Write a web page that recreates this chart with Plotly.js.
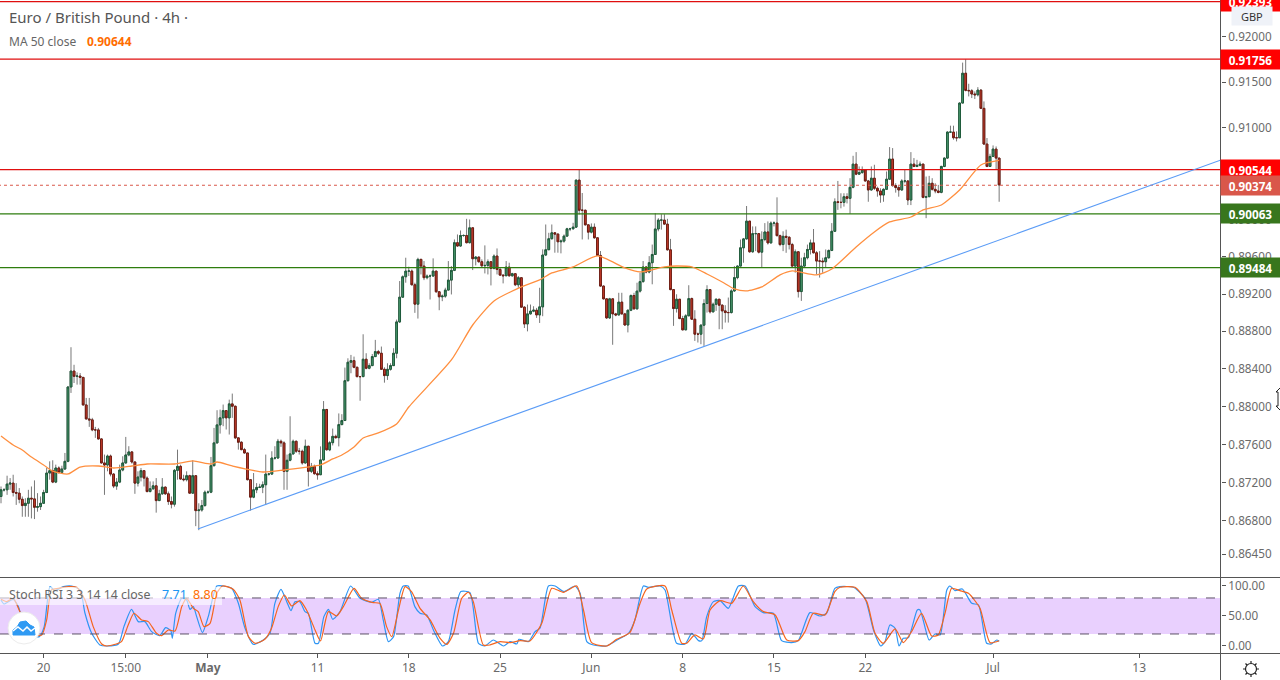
<!DOCTYPE html>
<html>
<head>
<meta charset="utf-8">
<title>EUR/GBP 4h</title>
<script src="https://cdn.plot.ly/plotly-3.0.1.min.js"></script>
<style>
  html, body { margin: 0; padding: 0; background: #fff; overflow: hidden; }
  #chart { width: 1280px; height: 680px; }
</style>
</head>
<body>
<div id="chart"></div>
<script>
// candles, one per 4h bar
const opens = [.87054,.87124,.87124,.87184,.87194,.87096,.87089,.87025,.86959,.86983,.87036,.87029,.86941,.86948,.86983,.87096,.873,.87325,.87205,.87353,.87307,.87342,.87423,.88208,.88377,.88321,.88324,.8831,.88018,.8787,.8786,.87754,.87754,.87659,.87406,.87384,.87479,.87289,.87163,.87205,.87332,.87406,.8749,.87522,.87416,.87194,.87258,.87325,.87247,.87106,.87135,.87166,.87011,.87082,.87152,.87082,.87001,.86973,.87328,.8737,.87237,.8723,.87272,.87089,.87272,.86906,.86913,.86959,.87099,.87099,.87377,.87617,.87807,.87881,.87958,.87881,.88029,.88004,.8767,.87624,.87546,.87511,.8723,.87047,.87124,.87149,.87152,.87177,.87289,.87289,.87458,.87458,.87634,.87617,.87318,.87434,.87501,.87634,.87529,.87529,.87406,.87582,.87318,.8737,.87293,.87282,.87438,.8797,.87544,.87619,.87686,.87672,.8781,.87853,.88275,.88471,.88488,.88417,.88318,.88318,.88503,.88407,.88435,.88531,.88584,.88567,.88396,.88329,.88396,.88435,.88567,.88901,.89166,.89385,.89446,.89446,.89299,.89091,.89572,.895,.89375,.89393,.89393,.89446,.89224,.8917,.89177,.89242,.89349,.89454,.89752,.89716,.8983,.8983,.89752,.89913,.89579,.89597,.89547,.89504,.89507,.89547,.89475,.89608,.89464,.89403,.89396,.89489,.89396,.89418,.89299,.89375,.89059,.88879,.88987,.89016,.89026,.88976,.89062,.89619,.89676,.89795,.89859,.89845,.89762,.89769,.89823,.89902,.89902,.8992,.9043,.90103,.90103,.89945,.89866,.8992,.89805,.89615,.89285,.89148,.88944,.89148,.88987,.88976,.89113,.88987,.88868,.89026,.89184,.89041,.89231,.89333,.8949,.89436,.89536,.89625,.899,.89996,.89996,.89953,.89675,.89247,.89044,.89144,.88937,.88816,.88966,.89151,.8893,.8877,.8877,.88866,.89098,.89247,.89009,.8909,.89144,.8908,.89019,.89001,.89001,.89233,.89376,.895,.89697,.89793,.89985,.89654,.8985,.8985,.8965,.89786,.89868,.8975,.89964,.89964,.89828,.89732,.89821,.89811,.89732,.895,.89654,.89226,.895,.8959,.89679,.8975,.89643,.89554,.89554,.89547,.8959,.89668,.89875,.90195,.90188,.90188,.9025,.90232,.90352,.90604,.90495,.90513,.90542,.90421,.90323,.90451,.90341,.90312,.90268,.9033,.9044,.90659,.9037,.90349,.90323,.90421,.90421,.90214,.90604,.90579,.9059,.90604,.90243,.9025,.90396,.9033,.90312,.90297,.90579,.9067,.90954,.90954,.90892,.90892,.91272,.916,.91411,.91407,.91371,.91363,.91414,.91214,.90823,.90579,.90688,.90768,.9067];
const closes = [.87124,.87124,.87184,.87194,.87096,.87089,.87025,.86959,.86983,.87036,.87029,.86941,.86948,.86983,.87096,.873,.87325,.87205,.87353,.87307,.87342,.87423,.88208,.88377,.88321,.88324,.8831,.88018,.8787,.8786,.87754,.87754,.87659,.87406,.87384,.87479,.87289,.87163,.87205,.87332,.87406,.8749,.87522,.87416,.87194,.87258,.87325,.87247,.87106,.87135,.87166,.87011,.87082,.87152,.87082,.87001,.86973,.87328,.8737,.87237,.8723,.87272,.87089,.87272,.86906,.86913,.86959,.87099,.87099,.87377,.87617,.87807,.87881,.87958,.87881,.88029,.88004,.8767,.87624,.87546,.87511,.8723,.87047,.87124,.87149,.87152,.87177,.87289,.87289,.87458,.87458,.87634,.87617,.87318,.87434,.87501,.87634,.87529,.87529,.87406,.87582,.87318,.8737,.87293,.87282,.87438,.8797,.87544,.87619,.87686,.87672,.8781,.87853,.88275,.88471,.88488,.88417,.88318,.88318,.88503,.88407,.88435,.88531,.88584,.88567,.88396,.88329,.88396,.88435,.88567,.88901,.89166,.89385,.89446,.89446,.89299,.89091,.89572,.895,.89375,.89393,.89393,.89446,.89224,.8917,.89177,.89242,.89349,.89454,.89752,.89716,.8983,.8983,.89752,.89913,.89579,.89597,.89547,.89504,.89507,.89547,.89475,.89608,.89464,.89403,.89396,.89489,.89396,.89418,.89299,.89375,.89059,.88879,.88987,.89016,.89026,.88976,.89062,.89619,.89676,.89795,.89859,.89845,.89762,.89769,.89823,.89902,.89902,.8992,.9043,.90103,.90103,.89945,.89866,.8992,.89805,.89615,.89285,.89148,.88944,.89148,.88987,.88976,.89113,.88987,.88868,.89026,.89184,.89041,.89231,.89333,.8949,.89436,.89536,.89625,.899,.89996,.89996,.89953,.89675,.89247,.89044,.89144,.88937,.88816,.88966,.89151,.8893,.8877,.8877,.88866,.89098,.89247,.89009,.8909,.89144,.8908,.89019,.89001,.89001,.89233,.89376,.895,.89697,.89793,.89985,.89654,.8985,.8985,.8965,.89786,.89868,.8975,.89964,.89964,.89828,.89732,.89821,.89811,.89732,.895,.89654,.89226,.895,.8959,.89679,.8975,.89643,.89554,.89554,.89547,.8959,.89668,.89875,.90195,.90188,.90188,.9025,.90232,.90352,.90604,.90495,.90513,.90542,.90421,.90323,.90451,.90341,.90312,.90268,.9033,.9044,.90659,.9037,.90349,.90323,.90421,.90421,.90214,.90604,.90579,.9059,.90604,.90243,.9025,.90396,.9033,.90312,.90297,.90579,.9067,.90954,.90954,.90892,.90892,.91272,.916,.91411,.91407,.91371,.91363,.91414,.91214,.90823,.90579,.90688,.90768,.9067,.90378];
const highs = [.87159,.87142,.87272,.87247,.87282,.87194,.87142,.87054,.87036,.87124,.87159,.87223,.87089,.87054,.87124,.87353,.87423,.87434,.87388,.8737,.87377,.87511,.88215,.88631,.88444,.88363,.88356,.88314,.88092,.88092,.87881,.87786,.87775,.87666,.87494,.87494,.87494,.873,.87247,.87388,.87476,.8768,.87582,.87529,.87423,.87318,.87353,.87325,.87265,.87212,.87212,.87247,.87124,.87247,.87159,.87106,.87054,.87342,.87546,.87388,.87282,.87318,.87282,.87434,.87272,.86983,.87018,.87117,.87117,.87469,.87775,.87962,.87969,.88022,.87962,.88074,.88138,.88011,.8767,.87634,.87564,.87511,.8723,.873,.87194,.87187,.87212,.87494,.873,.87529,.87582,.87659,.87652,.87634,.87494,.87898,.87652,.87641,.87564,.87546,.87652,.87582,.87406,.87388,.87318,.8758,.88059,.87974,.87636,.87768,.87704,.87928,.8792,.88414,.88513,.88549,.88531,.88425,.88325,.88769,.88567,.8846,.88559,.88709,.88602,.88638,.88417,.8846,.8846,.8862,.88926,.89339,.894,.8959,.89493,.89464,.89321,.8959,.89579,.89554,.8941,.8941,.89583,.89446,.89231,.89195,.89267,.89554,.895,.89787,.89841,.89884,.89841,.9001,.90003,.89913,.89608,.89601,.89572,.89723,.89572,.89554,.89626,.8969,.89482,.8941,.89554,.89536,.89428,.89421,.89393,.89375,.89069,.89087,.89087,.89069,.89051,.89267,.8968,.89949,.89859,.89949,.89866,.89852,.89787,.89841,.89913,.89913,.89967,.90434,.90548,.9029,.9011,.89949,.8996,.8996,.89805,.89662,.89292,.89152,.89159,.89152,.88998,.89213,.89213,.88998,.89033,.89195,.89213,.89321,.89429,.89554,.895,.89607,.89732,.90071,.90017,.9006,.9006,.9001,.89793,.89251,.89197,.89144,.88966,.88984,.89294,.89162,.89026,.88787,.88877,.89144,.89294,.89251,.89108,.89151,.89144,.8909,.8908,.89162,.89251,.895,.89508,.89786,.89803,.90149,.89985,.89928,.89928,.89857,.89875,.89964,.89982,.89982,.89982,.90243,.89839,.89875,.89893,.89821,.8975,.89679,.89661,.8959,.89643,.89732,.89786,.899,.89661,.89661,.8959,.89679,.89679,.89964,.90232,.90421,.90287,.90287,.90287,.90451,.90695,.90735,.90579,.90579,.90549,.90432,.90579,.90597,.90359,.90341,.90341,.90524,.9079,.90779,.90396,.90367,.9044,.90542,.90425,.90735,.9067,.90651,.90633,.90608,.90469,.90476,.90451,.90396,.90378,.90586,.90677,.90962,.91024,.91024,.90962,.91279,.91717,.91754,.91484,.91425,.914,.91447,.91425,.9129,.90889,.90717,.90808,.90797,.9067];
const lows = [.86983,.87106,.87071,.87124,.87054,.86966,.86983,.86842,.86842,.86842,.86825,.86818,.86895,.86913,.86983,.87089,.8723,.87194,.87194,.87293,.873,.87335,.87413,.88145,.8825,.88233,.88233,.88011,.87863,.87786,.8774,.8767,.87652,.87399,.87071,.87318,.87265,.87142,.87124,.87194,.87318,.87399,.87476,.87399,.87082,.87159,.87212,.87159,.87096,.87096,.87124,.86885,.87011,.87071,.87071,.86966,.8693,.86948,.8723,.8723,.87212,.87212,.87082,.87082,.86744,.86702,.86895,.86948,.87082,.87089,.8737,.8761,.87715,.87793,.87758,.87705,.87881,.87659,.87546,.87539,.87504,.87223,.86906,.87036,.87089,.87142,.87089,.86966,.87272,.87282,.87441,.87448,.87575,.87124,.87124,.87423,.87494,.87511,.87494,.87388,.87399,.87159,.873,.87282,.8723,.87431,.87431,.87537,.8753,.8759,.87661,.8758,.87803,.87849,.88265,.88354,.88407,.88311,.88062,.88318,.88396,.88396,.88432,.88531,.88549,.88389,.88254,.88283,.88382,.88432,.88513,.8889,.89159,.89321,.89393,.89292,.88998,.88937,.8941,.89349,.89357,.89141,.89385,.89213,.89026,.89123,.89159,.89242,.89195,.89446,.89708,.89708,.89816,.89744,.89744,.89457,.89507,.89536,.89482,.89421,.8941,.89292,.89464,.8941,.89393,.89314,.89393,.89385,.89385,.89285,.89267,.89051,.88836,.888,.8898,.89005,.88944,.8889,.88962,.89608,.89673,.89787,.89644,.89644,.89637,.89752,.89816,.89877,.89895,.89913,.90057,.89787,.89938,.89787,.89852,.89795,.89608,.89278,.89141,.88933,.88933,.88657,.88962,.88969,.8898,.88861,.88789,.89016,.89033,.89033,.89215,.89322,.89422,.89422,.89304,.89625,.89875,.89893,.89946,.89668,.8924,.88859,.89001,.8893,.88812,.88816,.88966,.88923,.88698,.88681,.88663,.88645,.89001,.88991,.89001,.89019,.88823,.88823,.88894,.88894,.88991,.89222,.89358,.895,.89536,.89786,.89643,.89643,.89661,.89636,.89483,.89768,.89732,.89743,.89928,.89821,.89714,.89661,.89643,.89679,.89493,.89429,.89162,.89126,.89483,.89572,.89625,.89636,.89411,.89376,.89429,.89483,.89579,.89661,.89875,.90107,.90124,.90142,.90177,.90064,.90341,.90484,.90487,.90498,.90414,.90195,.90316,.90323,.9025,.90184,.90195,.90323,.90432,.90359,.90294,.9025,.90316,.90396,.90159,.90159,.90571,.90571,.90579,.90232,.90017,.9025,.90316,.90287,.90287,.90287,.90571,.90662,.90944,.90871,.90852,.90889,.91272,.914,.91345,.91327,.91316,.91345,.91206,.90816,.90571,.90579,.90681,.90542,.90195];

// MA 50 close, vertices
const maBars = [0,4,7,10,14,17,22,26,32,37,43,48,57,63,69,71,76,86,93,105,109,112,116,119,124,130,134,148,155,162,171,177,181,188,196,205,210,218,222,227,232,237,241,245,250,256,260,268,273,281,287,292,299,303,309,315,322,328];
const maValues = [.8769,.87595,.87542,.87468,.87385,.87321,.8729,.87363,.87374,.87353,.87374,.87395,.87395,.87427,.87395,.87416,.87374,.87311,.87332,.87385,.87448,.8749,.87574,.87669,.87722,.87817,.87996,.88495,.88868,.89125,.89276,.89351,.89426,.89491,.89609,.8948,.89437,.89491,.89501,.89491,.89415,.89329,.89254,.89233,.89276,.89405,.89448,.89405,.89469,.89706,.89868,.89976,.9003,.90106,.9016,.90323,.90595,.90644];

// drawn levels and the rising trend line
const redLevels = [.92393,.91756,.90544];
const dottedLevel = .90374;
const greenLevels = [.90063,.89484];
const trendBars = [64.7,400.9];
const trendPrices = [.86715,.90649];

// Stoch RSI, vertices
const kBars = [0,1,4,5.7,7.3,9.5,12.6,14.2,16.1,17.7,20.5,23.2,26,27.6,29.8,32.5,34.7,38.6,40.4,42.9,45.1,47.3,49.5,52.2,54.1,55.8,56.3,57.4,59.4,61,62.1,63.2,64.3,66.2,68.1,70.9,73,75.8,78,80.2,82.9,86.2,88.4,90,92,93.9,95.3,96.6,98.2,99.9,101,103.2,104.3,106.1,107.6,109,111.4,114.9,118,121.8,124,125.6,127.3,129,131.1,132.2,133.8,136,137.7,139.9,142.1,145.1,147,149.2,151.1,154.1,156.9,159,161.8,165.1,167.3,169.5,170.2,173.3,175.5,177.1,179.9,182.1,185,188.6,190.3,192.5,194.7,199,203.4,206.2,208.3,211.1,212.7,216.6,218.2,222,224.8,227,229.2,230.3,231.9,234.1,236.3,239,242.3,244.5,247.8,250.5,253.8,256.5,259.8,262,265.8,269.1,271.3,274,275.7,280.1,283.9,286.7,289.1,290.5,292.1,293.8,295.1,296.5,298.2,301.1,302,305,306.9,308.6,310.8,311.8,313.5,315.9,319,321.2,323.9,325.5,327.2,328];
const kValues = [76.7,70,77.8,65.6,37.8,18.4,15.6,32.3,98.9,92.3,98.9,100,93.4,54.5,21.1,1.7,0,3.4,32.3,61.1,40.6,40.6,23.9,17.3,30.6,25.6,12.8,54.5,79.5,76.7,61.1,65.6,48.9,22.3,48.9,100,100,96.1,71.1,29.5,2.8,10,21.1,71.1,94.5,73.9,58.9,73.9,73.9,57.3,54.5,4.5,4.5,48.9,61.1,44.5,57.3,100,79.5,72.8,77.8,43.4,7.2,15.6,87.8,100,100,65.6,54.5,51.7,26.7,0,7.3,60,90.6,88.9,4.5,0,10,0,7.3,3.4,11.1,7.3,23.9,29.5,100,100,90.6,100,87.8,7.3,1.7,0,12.8,21.1,43.4,100,97.8,100,93.4,4.5,3.4,21.1,8.9,8.9,48.9,73.9,75.6,62.8,100,100,65.6,55.6,54.5,8.9,5.6,8.9,55.6,50,54.5,96.1,98.9,97.8,79.5,26.7,0,7.3,35,29.5,0,12.8,13.9,60,60,10,20,18.4,93.4,100,92.3,95,71.1,68.4,4.5,3.4,10,7.71];
const dBars = [0,1.9,4,6.2,8.4,10.6,13.4,15,16.6,18.8,22.1,24.9,27.6,30.3,33.1,34.7,37.5,39.6,41.8,43.7,46.2,48.4,51.1,52.8,55,57.2,59.4,61,63.2,64.8,66.7,68.7,70.9,72.8,76.3,78.5,81.3,83.5,86.7,88.9,91.1,93.1,95.5,98.2,100.4,103.2,105,107.6,110.3,112.5,116,118.5,122.3,124.5,126.7,128.4,130.6,132.8,134.9,137.7,141,144.3,146.5,148.7,151.4,153.6,155.2,158.5,160.7,164,167.3,170.6,173.8,177.7,181,184.8,189.2,191.4,194.1,199,202.3,206.7,210,212.2,218.2,220.4,223.7,225.3,228,230.8,233,236.3,240.1,243.9,247.2,250.5,254.4,258.2,262,264.2,266.9,270.8,274,275.7,280.6,284.5,287.2,289.9,293.8,296.5,299.2,302.5,305.8,308,310.2,312.4,315.1,317.9,321.7,325,328];
const dValues = [77.8,73.9,79.5,57.3,32.3,18.4,18.4,43.4,93.4,96.1,98.9,97.8,76.7,32.3,3.4,0,2.8,7.3,35,54.5,43.4,40.6,21.1,17.3,26.7,25,65.6,79.5,62.8,57.3,32.3,37.8,87.8,100,94.5,76.7,15.6,4.5,11.1,29.5,65.6,85,66.7,75.6,60,26.7,8.4,57.3,50,65.6,96.1,79.5,72.3,71.1,32.3,15.6,60,98.9,90.6,62.8,43.4,12.8,2.8,21.1,79.5,89.5,73.9,1.7,1.7,7.3,5.6,8.9,8.4,37.8,96.1,89.5,100,60,5.6,0,11.1,22.8,71.1,95,100,60,4.5,4.5,18.4,11.7,60,75.6,71.1,100,73.9,57.3,51.7,10,8.9,23.9,54.5,51.7,90.6,97.8,97.8,73.9,21.1,4.5,28.4,5.6,23.9,54.5,16.7,18.4,54.5,96.1,92.3,87.8,62.8,5.6,8.8];
const bandLevels = [20,80];

// axis ticks
const dateTicks = [14,41,68,104,134,164,194,224,254,284,326,374];
const dateLabels = ['20','15:00','<b>May</b>','11','18','25','Jun','8','15','22','Jul','13'];
const priceTicks = [.92,.915,.91,.9,.896,.892,.888,.884,.88,.876,.872,.868,.8645];
const stochTicks = [100,50,0];

const W = 1221, H = 653;
const px = x => x / W;
const py = y => (H - y) / H;
const font = 'Noto Sans, Liberation Sans, sans-serif';
const bars = closes.map((c, i) => i);

let traces = [];

// wicks first, grey
traces.push({
  type: 'candlestick', x: bars, open: opens, high: highs, low: lows, close: closes,
  yaxis: 'y', hoverinfo: 'skip', showlegend: false, whiskerwidth: 0,
  increasing: {line: {color: '#787878', width: 1}, fillcolor: '#787878'},
  decreasing: {line: {color: '#787878', width: 1}, fillcolor: '#787878'}
});
// bodies on top, dark edge
traces.push({
  type: 'candlestick', x: bars, open: opens, close: closes,
  high: opens.map((o, i) => Math.max(o, closes[i])),
  low: opens.map((o, i) => Math.min(o, closes[i])),
  yaxis: 'y', hoverinfo: 'skip', showlegend: false, whiskerwidth: 0,
  increasing: {line: {color: '#1d5a3a', width: 1}, fillcolor: '#4f9f73'},
  decreasing: {line: {color: '#6e1a10', width: 1}, fillcolor: '#d0402e'}
});

function levelLine(value, color, dash) {
  return {type: 'scatter', mode: 'lines', x: [-1, 402], y: [value, value], yaxis: 'y',
    line: {color: color, width: 1.2, dash: dash || 'solid'}, hoverinfo: 'skip', showlegend: false};
}
redLevels.forEach(v => traces.push(levelLine(v, '#e00f0f')));
traces.push(levelLine(dottedLevel, '#d9574a', 'dot'));
greenLevels.forEach(v => traces.push(levelLine(v, '#2e7d0e')));

traces.push({type: 'scatter', mode: 'lines', x: trendBars, y: trendPrices, yaxis: 'y',
  line: {color: '#5b9cf6', width: 1.1}, hoverinfo: 'skip', showlegend: false});
traces.push({type: 'scatter', mode: 'lines', x: maBars, y: maValues, yaxis: 'y',
  line: {color: '#ff8f3f', width: 1.3, shape: 'spline', smoothing: 0.6}, hoverinfo: 'skip', showlegend: false});
traces.push({type: 'scatter', mode: 'lines', x: kBars, y: kValues, yaxis: 'y2',
  line: {color: '#2f95f3', width: 1.2, shape: 'spline', smoothing: 0.6}, hoverinfo: 'skip', showlegend: false});
traces.push({type: 'scatter', mode: 'lines', x: dBars, y: dValues, yaxis: 'y2',
  line: {color: '#f5641e', width: 1.2, shape: 'spline', smoothing: 0.6}, hoverinfo: 'skip', showlegend: false});

// price tags on the right axis
let annotations = [];
function priceTag(value, bg) {
  annotations.push({
    xref: 'paper', yref: 'y', x: px(1250.5), y: Math.log10(value), xanchor: 'center', yanchor: 'middle',
    text: '<b>' + value.toFixed(5) + '</b>', showarrow: false, bgcolor: bg, width: 59, height: 19, borderpad: 0,
    font: {family: font, size: 11.7, color: '#fff'}
  });
}
redLevels.forEach(v => priceTag(v, '#ff0000'));
priceTag(dottedLevel, '#d9574a');
greenLevels.forEach(v => priceTag(v, '#38761d'));

function label(x, y, text, size, color, extra) {
  annotations.push(Object.assign({
    xref: 'paper', yref: 'paper', x: px(x), y: py(y), xanchor: 'left', yanchor: 'middle',
    text: text, showarrow: false, font: {family: font, size: size, color: color}
  }, extra || {}));
}
label(1231, 16.5, 'GBP', 11, '#333', {bgcolor: '#eff2f8', width: 38, height: 16});
label(7, 17, 'Euro / British Pound · 4h ·', 15, '#555');
label(7, 41.5, 'MA 50 close', 12, '#666');
label(85, 41.5, '<b>0.90644</b>', 12, '#ff6d00');
label(7, 594, 'Stoch RSI 3 3 14 14 close', 12.3, '#666');
label(160, 594, '7.71', 12.5, '#2196f3');
label(191, 594, '8.80', 12.5, '#ff6d00');

// little settings wheel in the corner
const gearRays = [[1251, 661, 1251, 663], [1251, 675, 1251, 677], [1243, 669, 1245, 669], [1257, 669, 1259, 669],
  [1245.5, 663.5, 1247, 665], [1255, 673, 1256.5, 674.5], [1245.5, 674.5, 1247, 673], [1255, 665, 1256.5, 663.5]];

const shapes = [
  // purple band of the oscillator
  {type: 'rect', xref: 'paper', yref: 'y2', x0: 0, x1: 1, y0: bandLevels[0], y1: bandLevels[1],
    fillcolor: 'rgba(156,39,250,0.22)', line: {width: 0}, layer: 'below'},
  {type: 'line', xref: 'paper', yref: 'y2', x0: 0, x1: 1, y0: bandLevels[0], y1: bandLevels[0],
    line: {color: '#5d5166', width: 1, dash: 'dash'}},
  {type: 'line', xref: 'paper', yref: 'y2', x0: 0, x1: 1, y0: bandLevels[1], y1: bandLevels[1],
    line: {color: '#5d5166', width: 1, dash: 'dash'}},
  // pale strip behind the legend
  {type: 'rect', xref: 'paper', yref: 'paper', x0: 0, x1: px(222), y0: py(605), y1: py(587),
    fillcolor: 'rgba(255,255,255,0.6)', line: {width: 0}},
  // pane frame
  {type: 'line', xref: 'paper', yref: 'paper', x0: 0, x1: px(1280), y0: py(577.5), y1: py(577.5), line: {color: '#555', width: 1}},
  {type: 'line', xref: 'paper', yref: 'paper', x0: 0, x1: px(1280), y0: py(653.5), y1: py(653.5), line: {color: '#555', width: 1}},
  {type: 'line', xref: 'paper', yref: 'paper', x0: px(1220.5), x1: px(1220.5), y0: py(0), y1: py(680), line: {color: '#555', width: 1}},
  // logo
  {type: 'circle', xref: 'paper', yref: 'paper', x0: px(8), x1: px(40), y0: py(644), y1: py(612),
    fillcolor: '#fff', line: {color: '#ececec', width: 1}},
  {type: 'path', xref: 'paper', yref: 'paper',
    path: 'M' + [[13, 635], [13, 630], [17, 627], [20, 622], [26, 621], [30, 625], [34, 627], [35, 635]]
      .map(p => px(p[0]) + ',' + py(p[1])).join(' L') + ' Z',
    fillcolor: '#2f9af3', line: {color: '#2f9af3', width: 1}},
  {type: 'path', xref: 'paper', yref: 'paper',
    path: 'M' + [[13, 631], [18, 627], [23, 631], [27, 627], [31, 631], [35, 628]]
      .map(p => px(p[0]) + ',' + py(p[1])).join(' L'),
    line: {color: '#fff', width: 1.5}},
  // cursor at the right edge
  {type: 'path', xref: 'paper', yref: 'paper',
    path: 'M' + [[1280, 388], [1276, 392], [1278, 392], [1278, 406], [1276, 406], [1280, 410]]
      .map(p => px(p[0]) + ',' + py(p[1])).join(' L'),
    fillcolor: '#fff', line: {color: '#222', width: 1}},
  {type: 'circle', xref: 'paper', yref: 'paper', x0: px(1245.5), x1: px(1256.5), y0: py(674.5), y1: py(663.5),
    line: {color: '#222', width: 1.2}}
].concat(gearRays.map(r => ({type: 'line', xref: 'paper', yref: 'paper',
  x0: px(r[0]), y0: py(r[1]), x1: px(r[2]), y1: py(r[3]), line: {color: '#222', width: 1.2}})));

const tickFont = {family: font, size: 11.7, color: '#6a6a6a'};
const layout = {
  width: 1280, height: 680,
  margin: {l: 0, r: 59, t: 0, b: 27, pad: 0},
  paper_bgcolor: '#fff', plot_bgcolor: 'rgba(0,0,0,0)',
  font: {family: font, size: 12, color: '#6a6a6a'},
  showlegend: false, boxgap: 0.18, dragmode: false,
  xaxis: {
    type: 'linear', range: [-0.3286, 400.9], anchor: 'y2', showgrid: false, zeroline: false,
    rangeslider: {visible: false}, tickmode: 'array', tickvals: dateTicks, ticktext: dateLabels,
    ticks: 'outside', ticklen: 4, tickcolor: '#555', tickfont: {family: font, size: 12, color: '#6a6a6a'}
  },
  yaxis: {
    type: 'log', range: [-0.064416, -0.03428], domain: [(H - 577) / H, 1], side: 'right', anchor: 'x',
    showgrid: false, zeroline: false, tickmode: 'array', tickvals: priceTicks,
    ticktext: priceTicks.map(v => v.toFixed(5)), ticks: 'outside', ticklen: 4, tickcolor: '#555',
    tickfont: tickFont
  },
  yaxis2: {
    type: 'linear', range: [-11.7, 113.3], domain: [0, (H - 578) / H], side: 'right', anchor: 'x',
    showgrid: false, zeroline: false, tickmode: 'array', tickvals: stochTicks,
    ticktext: stochTicks.map(v => v.toFixed(2)), ticks: 'outside', ticklen: 4, tickcolor: '#555',
    tickfont: tickFont
  },
  annotations: annotations,
  shapes: shapes
};

Plotly.newPlot('chart', traces, layout, {staticPlot: true, displayModeBar: false});
</script>
</body>
</html>
